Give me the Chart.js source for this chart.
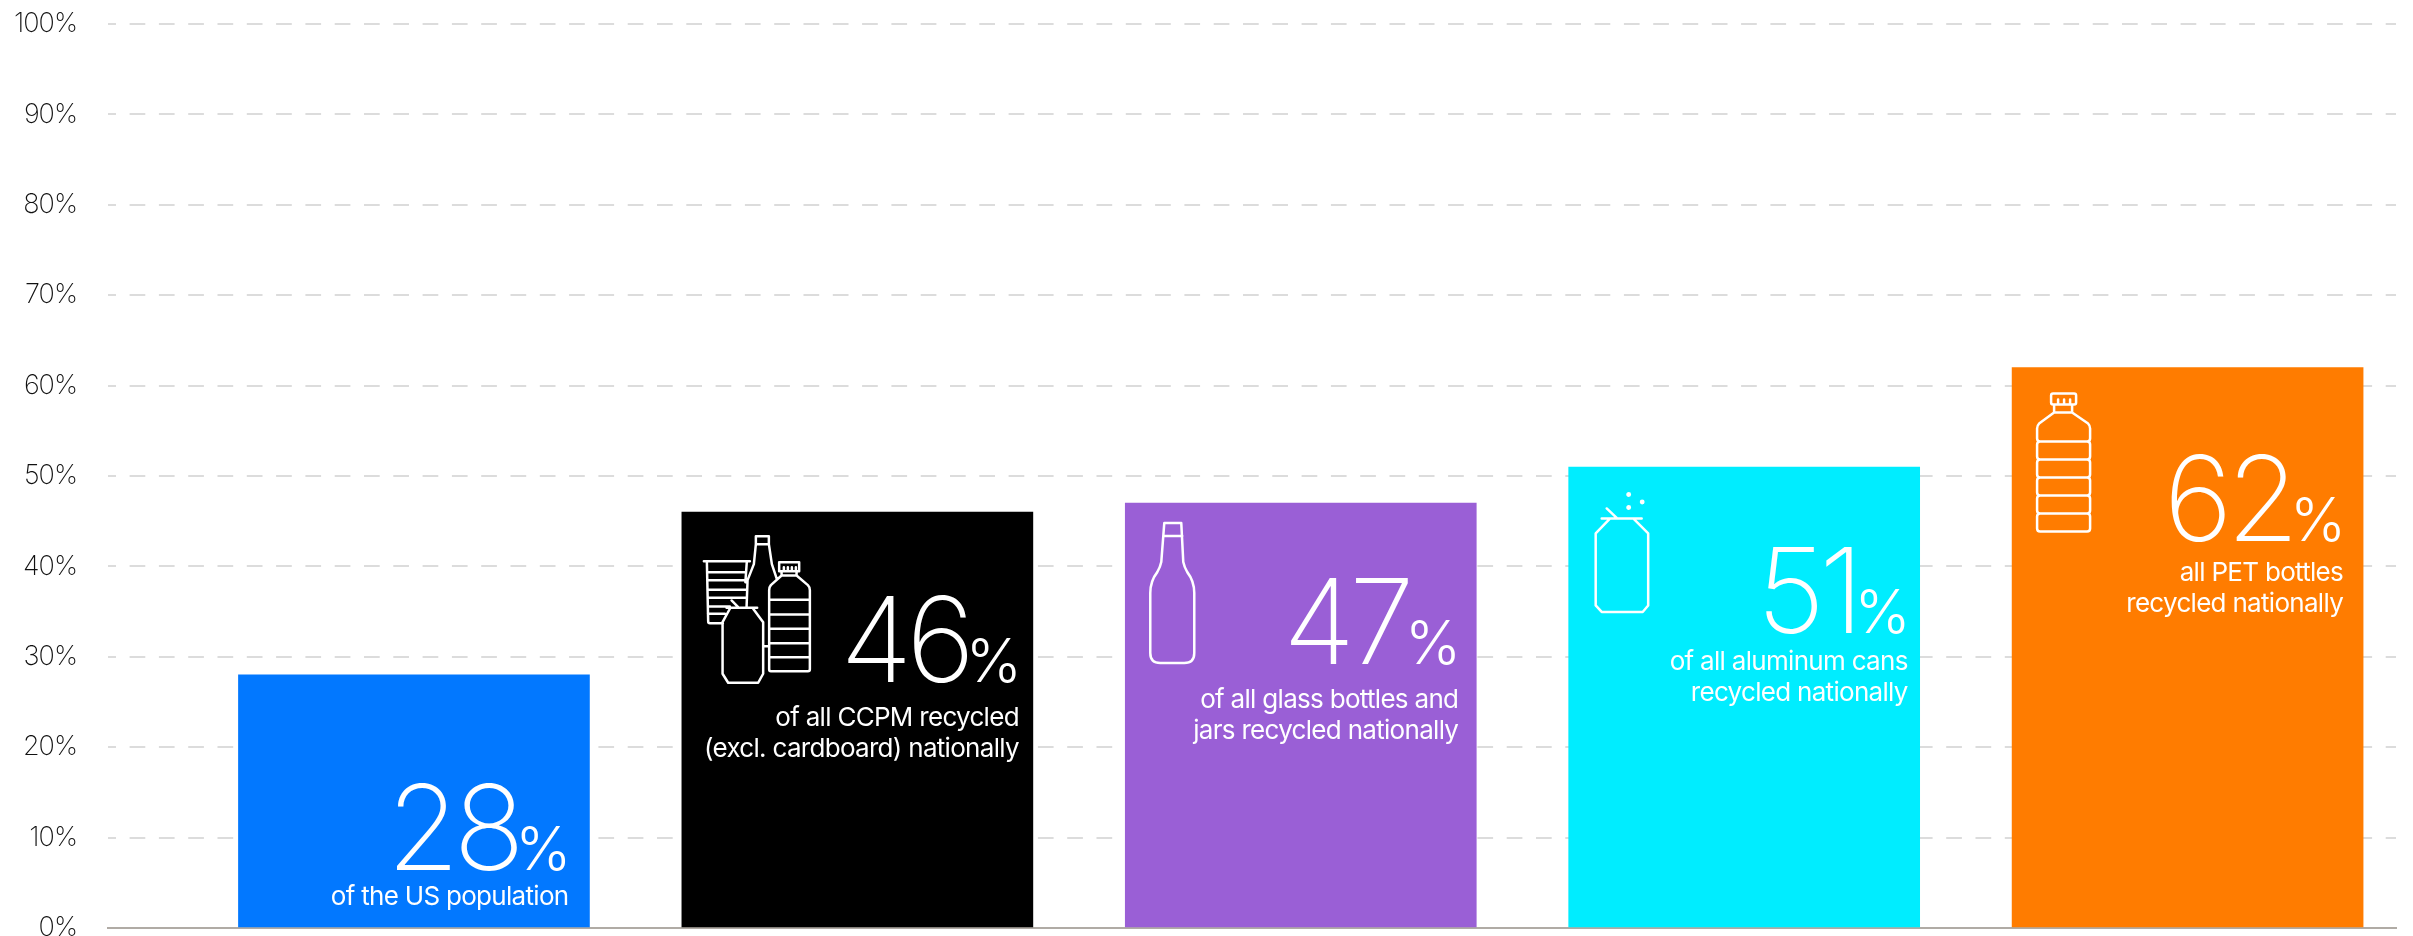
<!DOCTYPE html>
<html>
<head>
<meta charset="utf-8">
<style>
html,body{margin:0;padding:0;background:#fff;overflow:hidden}
#wrap{position:relative;width:2413px;height:936px}
</style>
<script src="https://cdn.jsdelivr.net/npm/chart.js@4/dist/chart.umd.min.js"></script>
</head>
<body>
<div id="wrap"><canvas id="c" width="2413" height="936"></canvas></div>
<script>
const categories = ['US population','CCPM','Glass','Aluminum','PET'];
const values = [28,46,47,51,62];
const barColors = ['#0278ff','#000000','#9a5fd6','#00edff','#ff7c00'];
const captions = [
  ['of the US population'],
  ['of all CCPM recycled','(excl. cardboard) nationally'],
  ['of all glass bottles and','jars recycled nationally'],
  ['of all aluminum cans','recycled nationally'],
  ['all PET bottles','recycled nationally']
];
const yTicks = [0,10,20,30,40,50,60,70,80,90,100];

// Layout of the text inside each bar, in pixels
const numberDrop = [195,170,161,166,173];
const captionDrop = [35,44,44,37,40];
const rightInset = [21,14,18,12,20];

// Outline pictograms, in pixels from each bar's top-left corner
const petBottle = 'M39 28 Q39 26 41 26 L62 26 Q64 26 64 28 L64 35 Q64 37 62 37 L41 37 Q39 37 39 35 Z M42 37 L42 45 L60 45 L60 37 M42 45 L27 56 Q25 58 25 61 L25 71 Q25 74 28 74 L75 74 Q78 74 78 71 L78 61 Q78 58 76 56 L60 45 M28 74 Q25 74 25 77 L25 89 Q25 92 28 92 L75 92 Q78 92 78 89 L78 77 Q78 74 75 74 M28 92 Q25 92 25 95 L25 107 Q25 110 28 110 L75 110 Q78 110 78 107 L78 95 Q78 92 75 92 M28 110 Q25 110 25 113 L25 125 Q25 128 28 128 L75 128 Q78 128 78 125 L78 113 Q78 110 75 110 M28 128 Q25 128 25 131 L25 143 Q25 146 28 146 L75 146 Q78 146 78 143 L78 131 Q78 128 75 128 M28 146 Q25 146 25 149 L25 161 Q25 164 28 164 L75 164 Q78 164 78 161 L78 149 Q78 146 75 146 M46 32 L46 37 M52 32 L52 37 M58 32 L58 37';
const glassBottle = 'M39 20 L56 20 L58 59 Q59 64 62 69 Q69 78 69 90 L69 150 Q69 160 59 160 L35 160 Q25 160 25 150 L25 90 Q25 78 32 69 Q35 64 36 59 Z M38 33 L57 33';
const aluminumCan = 'M38 41.5 L48 51 M33 51.5 L73 51.5 M41 52 L27 66.5 L27 138.5 L33 145 L74 145 L79.5 138.5 L79.5 66.5 L65 52 M58.8 27.5 a1.2 1.2 0 1 0 2.4 0 a1.2 1.2 0 1 0 -2.4 0 M72.3 35 a1.2 1.2 0 1 0 2.4 0 a1.2 1.2 0 1 0 -2.4 0 M58.8 40.5 a1.2 1.2 0 1 0 2.4 0 a1.2 1.2 0 1 0 -2.4 0';
const mixedGroup = [
  // cup
  'M22 49 L68 49 M25 49 L26.3 109 Q26.3 111 28 111 L41 111 M65 49 L63.5 70',
  'M26 60 L64 60 M26 68 L64 68 M26 77.6 L64 77.6 M26 85.6 L64 85.6 M26 94.3 L48 94.3 M26 101.6 L43 101.6',
  // glass bottle
  'M74 32 L74 24 L87 24 L87 32 Z M74 32 L72 52 L65.7 68 L64.7 95 M87 32 L90 52 L95 67',
  // PET bottle
  'M97.3 50 L117.3 50 L117.3 59 L97.3 59 Z M99.7 59 L99.7 63.3 L114.7 63.3 L114.7 59 M99.7 63.3 L89 73 Q87.3 75 87.3 78 L87.3 157 Q87.3 159 89 159 L126 159 Q128 159 128 157 L128 78 Q128 75 126 73 L114.7 63.3',
  'M87.3 87.6 L128 87.6 M87.3 102.3 L128 102.3 M87.3 116.6 L128 116.6 M87.3 131 L128 131 M87.3 145 L128 145',
  'M102 55 L102 59 M106 55 L106 59 M110 55 L110 59 M114 55 L114 59',
  // can
  'M44.7 95.6 L75.3 95.6 M49.7 88.3 L56.3 95 M48 96.6 L40.7 110 L40.7 161.6 L46.3 170.6 L76.3 170.6 L81.3 161.6 L81.3 110 L71.3 96.6 M81.3 134 L87.3 134'
].join(' ');
const pictograms = [null, mixedGroup, glassBottle, aluminumCan, petBottle];

// Numbers, captions and pictograms sit inside each bar and follow its geometry
const barContent = {
  id: 'barContent',
  beforeDraw(chart) {
    chart.ctx.letterSpacing = '-1px';
  },
  afterDatasetsDraw(chart) {
    const ctx = chart.ctx;
    chart.getDatasetMeta(0).data.forEach((bar, i) => {
      const left = bar.x - bar.width / 2;
      const right = bar.x + bar.width / 2;
      const top = bar.y;
      const base = top + numberDrop[i];
      const textRight = right - rightInset[i];
      ctx.save();
      ctx.fillStyle = '#fff';
      ctx.textBaseline = 'alphabetic';
      ctx.textAlign = 'right';

      ctx.letterSpacing = '0px';
      ctx.font = '300 60px Inter';
      ctx.fillText('%', textRight + 3, base);
      const pctWidth = ctx.measureText('%').width;
      ctx.letterSpacing = '-6px';
      ctx.font = '200 118px Inter';
      ctx.fillText(String(values[i]), textRight + 3 - pctWidth + 3.5, base);

      ctx.letterSpacing = '-0.7px';
      ctx.font = '400 26px Inter';
      captions[i].forEach((line, k) => {
        ctx.fillText(line, textRight, base + captionDrop[i] + k * 31);
      });

      if (pictograms[i]) {
        ctx.translate(left, top);
        ctx.strokeStyle = '#fff';
        ctx.lineWidth = 2.5;
        ctx.lineJoin = 'round';
        ctx.lineCap = 'round';
        ctx.stroke(new Path2D(pictograms[i]));
      }
      ctx.restore();
    });
  }
};

new Chart(document.getElementById('c'), {
  type: 'bar',
  data: {
    datasets: [{
      data: values.map((v, i) => ({ x: i, y: v })),
      backgroundColor: barColors,
      borderWidth: 0,
      barThickness: 351
    }]
  },
  options: {
    responsive: false,
    animation: false,
    layout: { autoPadding: false, padding: { top: 24, bottom: 8, left: 0, right: 17 } },
    plugins: { legend: { display: false }, tooltip: { enabled: false } },
    scales: {
      x: {
        type: 'linear',
        min: -0.69,
        max: 4.47,
        offset: false,
        afterFit(axis) { axis.height = 0; },
        grid: { display: false },
        border: { display: true, color: '#b0aba5', width: 2 },
        ticks: { display: false }
      },
      y: {
        min: 0,
        max: 100,
        afterFit(axis) {
          axis.width = 108;
          axis.paddingTop = 0;
          axis.paddingBottom = 0;
        },
        afterBuildTicks(axis) { axis.ticks = yTicks.map(v => ({ value: v })); },
        border: { display: false, dash: [15.7, 13.6], dashOffset: 7.7 },
        grid: {
          color: ctx => ctx.tick.value === 0 ? 'rgba(0,0,0,0)' : '#dcdcdc',
          lineWidth: 2,
          drawTicks: false
        },
        ticks: {
          padding: 31,
          color: '#111111',
          font: { family: 'Inter', size: 27, weight: '200' },
          callback: v => v + '%'
        }
      }
    }
  },
  plugins: [barContent]
});
</script>
</body>
</html>
